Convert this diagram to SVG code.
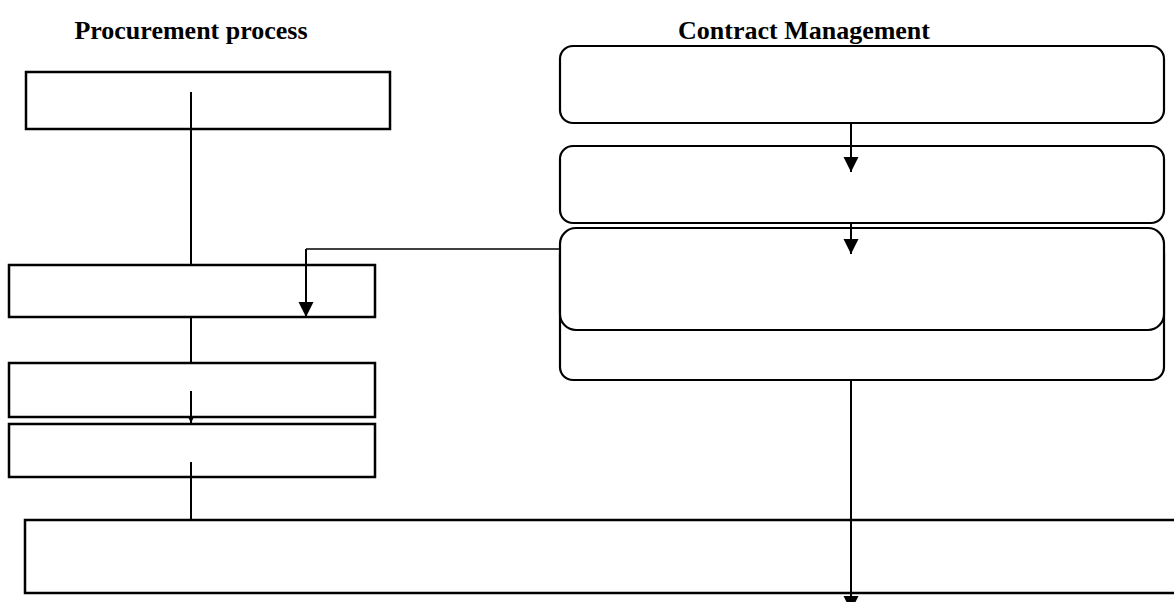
<svg xmlns="http://www.w3.org/2000/svg" width="1174" height="602" viewBox="0 0 1174 602">
  <style>
    .title { font-family: "Liberation Serif", "Times New Roman", serif; font-weight: bold; font-size: 26px; fill: #000; }
    .box { fill: #fff; stroke: #000; stroke-width: 2.5; }
    .rbox { fill: #fff; stroke: #000; stroke-width: 2.2; }
    .conn { fill: none; stroke: #000; stroke-width: 2; }
    .thin { fill: none; stroke: #000; stroke-width: 1.3; }
  </style>
  <defs>
    <marker id="arr" markerUnits="userSpaceOnUse" markerWidth="16" markerHeight="16" refX="15" refY="7.5" orient="auto">
      <path d="M0,0 L15,7.5 L0,15 Z" fill="#000"/>
    </marker>
    <marker id="arrSmall" markerUnits="userSpaceOnUse" markerWidth="6" markerHeight="6" refX="5" refY="2.5" orient="auto">
      <path d="M0,0 L5,2.5 L0,5 Z" fill="#000"/>
    </marker>
  </defs>

  <text class="title" x="191" y="39" text-anchor="middle">Procurement process</text>
  <text class="title" x="804" y="39" text-anchor="middle">Contract Management</text>

  <g id="nodes-left">
    <g id="p1"><rect class="box" x="26" y="72" width="364" height="57"/></g>
    <g id="p2"><rect class="box" x="9" y="265" width="366" height="52"/></g>
    <g id="p3"><rect class="box" x="9" y="363" width="366" height="54"/></g>
    <g id="p4"><rect class="box" x="9" y="424" width="366" height="53"/></g>
    <g id="p5"><rect class="box" x="25" y="520" width="1160" height="73" stroke-width="2"/></g>
  </g>

  <g id="nodes-right">
    <g id="c1"><rect class="rbox" x="560" y="46" width="604" height="77" rx="13" ry="13"/></g>
    <g id="c2"><rect class="rbox" x="560" y="146" width="604" height="77" rx="13" ry="13"/></g>
    <g id="c4"><rect class="rbox" x="560" y="240" width="604" height="140" rx="13" ry="13"/></g>
    <g id="c3"><rect class="rbox" x="560" y="228" width="604" height="102" rx="16" ry="16"/></g>
  </g>

  <g id="connectors">
    <line class="conn" x1="191" y1="92" x2="191" y2="265"/>
    <line class="conn" x1="191" y1="317" x2="191" y2="363"/>
    <line class="conn" x1="191" y1="391" x2="191" y2="423" marker-end="url(#arrSmall)"/>
    <line class="conn" x1="191" y1="462" x2="191" y2="520"/>
    <line class="conn" x1="851" y1="123" x2="851" y2="172" marker-end="url(#arr)"/>
    <line class="conn" x1="851" y1="223" x2="851" y2="254" marker-end="url(#arr)"/>
    <path class="thin" d="M560,249 L306,249"/>
    <line class="conn" x1="306" y1="249" x2="306" y2="317" marker-end="url(#arr)"/>
    <line class="conn" x1="851" y1="380" x2="851" y2="611" marker-end="url(#arr)"/>
  </g>
</svg>
